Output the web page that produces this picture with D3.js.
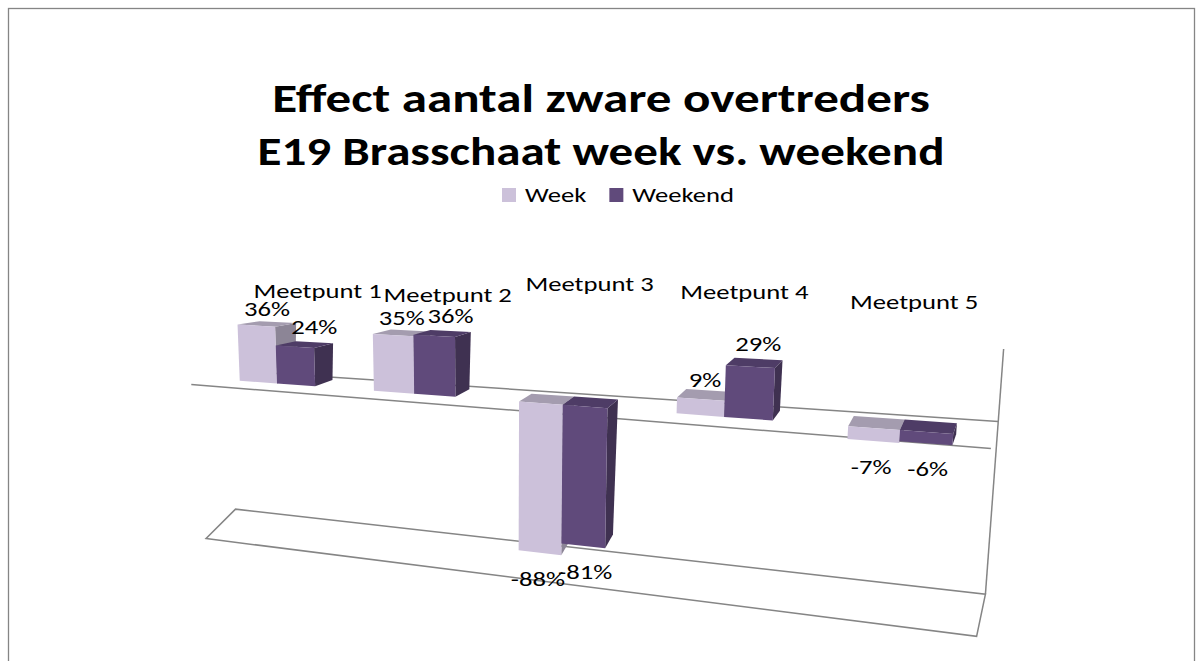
<!DOCTYPE html>
<html><head><meta charset="utf-8">
<script src="https://cdn.jsdelivr.net/npm/d3@7"></script>
<style>
body{margin:0;background:#fff;}
svg{display:block;}
text{font-family:Carlito,Calibri,Lato,sans-serif;fill:#000;}
</style></head><body>
<svg id="chart" width="1203" height="661"></svg>
<script>
// ---------------- data ----------------
const titleLines = ["Effect aantal zware overtreders", "E19 Brasschaat week vs. weekend"];
const categories = ["Meetpunt 1", "Meetpunt 2", "Meetpunt 3", "Meetpunt 4", "Meetpunt 5"];
const seriesNames = ["Week", "Weekend"];
const weekValues = [0.36, 0.35, -0.88, 0.09, -0.07];
const weekendValues = [0.24, 0.36, -0.81, 0.29, -0.06];
const valueDomain = [-0.95, 0.4];

// ---------------- styles / layout ----------------
const colors = {
  Week:    {front: "#CCC1DA", top: "#A49CAF", side: "#8C8596"},
  Weekend: {front: "#604A7B", top: "#4E3C66", side: "#3F3151"}
};
const lineColor = "#858585";
const textSX = 1.3;                 // horizontal stretch of the text
const labelFont = 20.5;
const titleFont = 40, titleWidths = [658, 687];
const catLabelNudge = [-23, -24, -41, -40, -38];
const labelDepth = {Week: 0.5, Weekend: 1};

const svg = d3.select("#chart");
const uMax = categories.length;
const catScale = d3.scaleBand().domain(categories).range([0, uMax]).paddingInner(0.4286).paddingOuter(0.2143);
const serScale = d3.scaleBand().domain(seriesNames).range([0, catScale.bandwidth()]);
const valScale = d3.scaleLinear().domain([0, 1]).range([0, -155]);
const [vMin, vMax] = valueDomain;
const fmt = d3.formatLocale({decimal: ".", thousands: ",", grouping: [3], currency: ["", ""], minus: "-", percent: "%"}).format(".0%");

// perspective projection of the 3-D scene: u = category axis, v = value, d = depth
const H_A = 119.07, H_B = 212.3, H_C = -0.0375, H_D = -4.725, H_E = 378.7;
const VPX = 500, VPY = 7000;
function front(u, v) {
  const den = 1 + H_C * u;
  const x0 = (H_A * u + H_B) / den;
  const yb = (H_D * u + H_E) / den;
  const y = (H_D * u + H_E + valScale(v)) / den;
  const x = VPX + (x0 - VPX) * (VPY - y) / (VPY - yb);
  return [x, y];
}
const D00 = [20, -5.5], D50 = [3, -11], D0m = [12, -12], D5m = [3.6, -17.2];
function depthVec(u, v) {
  const t = u / uMax, s = v / vMin;
  const a = [D00[0] + (D50[0] - D00[0]) * t, D00[1] + (D50[1] - D00[1]) * t];
  const b = [D0m[0] + (D5m[0] - D0m[0]) * t, D0m[1] + (D5m[1] - D0m[1]) * t];
  return [a[0] + (b[0] - a[0]) * s, a[1] + (b[1] - a[1]) * s];
}
function proj(u, v, d) {
  const p = front(u, v), q = depthVec(u, v);
  return [p[0] + d * q[0], p[1] + d * q[1]];
}
const dFront = -1.05, dBack = 1.4;
const line = d3.line();

// chart border
svg.append("rect").attr("x", 8.5).attr("y", 8.5).attr("width", 1186).attr("height", 700)
  .attr("fill", "none").attr("stroke", lineColor).attr("stroke-width", 1.3);

// text helper
function stretchText(g, x, y, str, size, weight, anchor, sx) {
  return g.append("text")
    .attr("transform", `translate(${x},${y}) scale(${sx || textSX},1)`)
    .attr("text-anchor", anchor || "middle")
    .attr("font-size", size).attr("font-weight", weight || "normal")
    .text(str);
}

// title (each line fitted to its width)
const tg = svg.append("g");
titleLines.forEach((t, i) => {
  const el = stretchText(tg, 601, 112 + i * 53, t, titleFont, "bold", "middle", 1);
  const w = el.node().getComputedTextLength();
  el.attr("transform", `translate(601,${112 + i * 53}) scale(${titleWidths[i] / w},1)`);
});

// legend
const lg = svg.append("g");
let lx = 502;
seriesNames.forEach(s => {
  lg.append("rect").attr("x", lx).attr("y", 188).attr("width", 14).attr("height", 14).attr("fill", colors[s].front);
  const t = stretchText(lg, lx + 23, 202, s, labelFont, "normal", "start");
  lx += 23 + t.node().getComputedTextLength() * textSX + 23;
});

// frame (floor, zero lines, back edge) - drawn first, bars paint over
const fg = svg.append("g").attr("fill", "none").attr("stroke", lineColor).attr("stroke-width", 1.5);
fg.append("path").attr("d", line([proj(0, vMin, dFront), proj(uMax, vMin, dFront), proj(uMax, vMin, dBack), proj(0, vMin, dBack)]) + "Z");
fg.append("path").attr("d", line([proj(0, 0, dFront), proj(uMax, 0, dFront)]));
fg.append("path").attr("d", line([proj(0, 0, dBack), proj(uMax, 0, dBack)]));
fg.append("path").attr("d", line([proj(uMax, vMin, dBack), proj(uMax, vMax, dBack)]));

// bars
const bars = [];
categories.forEach((c, i) => {
  [["Week", weekValues[i]], ["Weekend", weekendValues[i]]].forEach(([s, val]) => {
    const u0 = catScale(c) + serScale(s), u1 = u0 + serScale.bandwidth();
    bars.push({c, s, val, u0, u1, lo: Math.min(0, val), hi: Math.max(0, val)});
  });
});
const bg = svg.append("g");
bars.forEach(b => {
  const g = bg.append("g");
  g.append("path").attr("fill", colors[b.s].side)
    .attr("d", line([proj(b.u1, b.lo, 0), proj(b.u1, b.hi, 0), proj(b.u1, b.hi, 1), proj(b.u1, b.lo, 1)]) + "Z");
  g.append("path").attr("fill", colors[b.s].top)
    .attr("d", line([proj(b.u0, b.hi, 0), proj(b.u1, b.hi, 0), proj(b.u1, b.hi, 1), proj(b.u0, b.hi, 1)]) + "Z");
  g.append("path").attr("fill", colors[b.s].front)
    .attr("d", line([proj(b.u0, b.lo, 0), proj(b.u1, b.lo, 0), proj(b.u1, b.hi, 0), proj(b.u0, b.hi, 0)]) + "Z");
});

// data labels
const dl = svg.append("g");
bars.forEach(b => {
  const uc = (b.u0 + b.u1) / 2;
  let p;
  if (b.val >= 0) { p = proj(uc, b.val, labelDepth[b.s]); p = [p[0], p[1] - 15]; }
  else { p = proj(uc, b.val, 0); p = [p[0] + (b.s === "Week" ? -2 : 2), p[1] + 26]; }
  stretchText(dl, p[0], p[1] + labelFont * 0.35, fmt(b.val), labelFont);
});

// category labels
const cl = svg.append("g");
categories.forEach((c, i) => {
  const uc = catScale(c) + catScale.bandwidth() / 2;
  const p = proj(uc, vMax, 2);
  stretchText(cl, p[0], p[1] + catLabelNudge[i] + labelFont * 0.35, c, labelFont);
});
</script>
</body></html>
